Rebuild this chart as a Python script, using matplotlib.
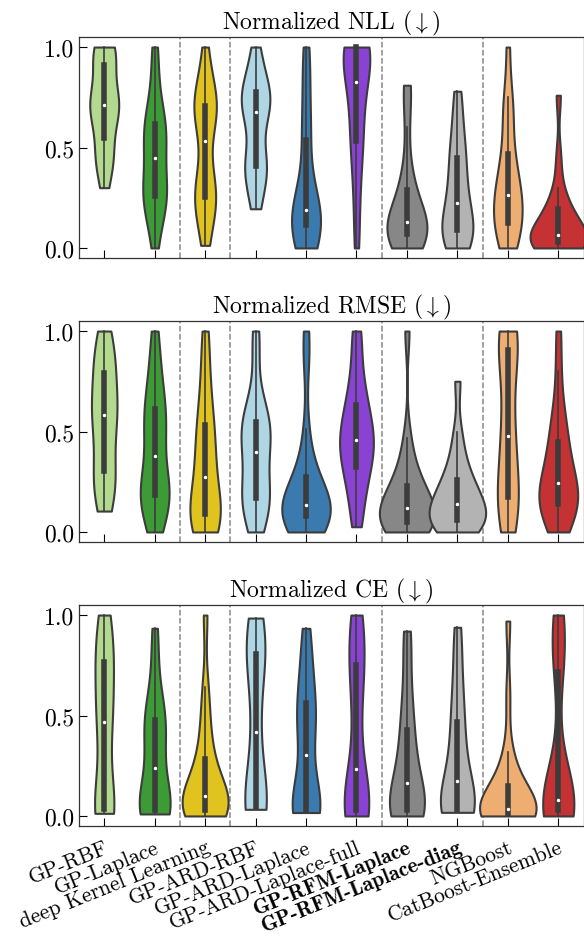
import matplotlib
matplotlib.use("Agg")
import matplotlib.pyplot as plt
import pandas as pd
import seaborn as sns

methods = ["GP-RBF", "GP-Laplace", "deep Kernel Learning", "GP-ARD-RBF",
           "GP-ARD-Laplace", "GP-ARD-Laplace-full", "GP-RFM-Laplace",
           "GP-RFM-Laplace-diag", "NGBoost", "CatBoost-Ensemble"]
bold_methods = ["GP-RFM-Laplace", "GP-RFM-Laplace-diag"]
colors = ["#b2d98e", "#3d9b35", "#e1c31f", "#aed6e4", "#3a7aae",
          "#8a42d4", "#878787", "#b3b3b3", "#eeae72", "#c43234"]
titles = ["Normalized NLL ($\\downarrow$)", "Normalized RMSE ($\\downarrow$)",
          "Normalized CE ($\\downarrow$)"]
separators = [1.5, 2.5, 5.5, 7.5]

# normalized scores per dataset, one list per method
nll_vals = [
    [0.30, 0.40, 0.43, 0.45, 0.50, 0.56, 0.64, 0.67, 0.69, 0.70, 0.72, 0.74, 0.76, 0.80, 0.91, 0.92, 0.97, 1.0, 1.0, 1.0],
    [0.0, 0.12, 0.18, 0.22, 0.25, 0.26, 0.28, 0.31, 0.35, 0.42, 0.48, 0.52, 0.55, 0.58, 0.61, 0.63, 0.68, 0.75, 0.90, 1.0],
    [0.013, 0.10, 0.18, 0.22, 0.24, 0.26, 0.28, 0.30, 0.33, 0.45, 0.61, 0.66, 0.68, 0.70, 0.70, 0.72, 0.74, 0.78, 0.88, 1.0],
    [0.195, 0.25, 0.32, 0.38, 0.40, 0.41, 0.43, 0.46, 0.58, 0.66, 0.69, 0.70, 0.72, 0.73, 0.77, 0.79, 0.81, 0.85, 0.93, 1.0],
    [0.0, 0.0, 0.02, 0.05, 0.09, 0.12, 0.13, 0.15, 0.16, 0.18, 0.20, 0.22, 0.25, 0.35, 0.52, 0.58, 0.65, 0.80, 0.92, 1.0],
    [0.0, 0.15, 0.30, 0.42, 0.50, 0.54, 0.60, 0.68, 0.75, 0.80, 0.85, 0.90, 0.94, 0.97, 1.0, 1.0, 1.0, 1.0, 1.0, 1.0],
    [0.0, 0.0, 0.02, 0.04, 0.06, 0.07, 0.08, 0.10, 0.11, 0.12, 0.14, 0.16, 0.18, 0.22, 0.28, 0.32, 0.40, 0.60, 0.78, 0.81],
    [0.0, 0.0, 0.03, 0.06, 0.08, 0.09, 0.10, 0.12, 0.15, 0.20, 0.25, 0.28, 0.32, 0.38, 0.44, 0.48, 0.52, 0.60, 0.70, 0.78],
    [0.0, 0.02, 0.06, 0.09, 0.11, 0.13, 0.17, 0.20, 0.23, 0.25, 0.28, 0.30, 0.34, 0.40, 0.45, 0.52, 0.66, 0.70, 0.75, 1.0],
    [0.0, 0.0, 0.01, 0.02, 0.02, 0.03, 0.04, 0.04, 0.05, 0.06, 0.07, 0.08, 0.10, 0.14, 0.19, 0.20, 0.21, 0.30, 0.45, 0.76],
]
rmse_vals = [
    [0.104, 0.15, 0.20, 0.24, 0.28, 0.31, 0.38, 0.45, 0.52, 0.56, 0.60, 0.62, 0.65, 0.68, 0.78, 0.82, 0.84, 0.90, 0.95, 1.0],
    [0.0, 0.06, 0.12, 0.15, 0.17, 0.19, 0.20, 0.22, 0.26, 0.33, 0.43, 0.48, 0.52, 0.56, 0.60, 0.64, 0.70, 0.78, 0.88, 1.0],
    [0.0, 0.0, 0.03, 0.06, 0.08, 0.09, 0.11, 0.13, 0.17, 0.24, 0.31, 0.36, 0.40, 0.45, 0.52, 0.56, 0.64, 0.74, 0.88, 1.0],
    [0.0, 0.06, 0.11, 0.14, 0.16, 0.17, 0.21, 0.24, 0.33, 0.38, 0.42, 0.46, 0.49, 0.52, 0.54, 0.56, 0.60, 0.66, 0.90, 1.0],
    [0.0, 0.0, 0.03, 0.06, 0.07, 0.08, 0.09, 0.10, 0.12, 0.13, 0.14, 0.15, 0.17, 0.20, 0.27, 0.29, 0.35, 0.51, 0.85, 1.0],
    [0.026, 0.10, 0.18, 0.25, 0.30, 0.33, 0.36, 0.40, 0.43, 0.45, 0.47, 0.50, 0.53, 0.57, 0.62, 0.66, 0.72, 0.80, 0.95, 1.0],
    [0.0, 0.0, 0.02, 0.03, 0.04, 0.05, 0.06, 0.07, 0.09, 0.11, 0.13, 0.14, 0.16, 0.19, 0.22, 0.25, 0.29, 0.36, 0.47, 1.0],
    [0.0, 0.0, 0.02, 0.04, 0.05, 0.06, 0.07, 0.09, 0.11, 0.13, 0.15, 0.17, 0.19, 0.22, 0.25, 0.28, 0.33, 0.40, 0.50, 0.75],
    [0.0, 0.05, 0.10, 0.14, 0.16, 0.18, 0.22, 0.30, 0.38, 0.45, 0.51, 0.58, 0.68, 0.85, 0.90, 0.92, 0.96, 1.0, 1.0, 1.0],
    [0.0, 0.04, 0.08, 0.11, 0.13, 0.14, 0.16, 0.18, 0.20, 0.23, 0.26, 0.29, 0.33, 0.38, 0.44, 0.48, 0.55, 0.62, 0.80, 1.0],
]
ce_vals = [
    [0.013, 0.02, 0.02, 0.03, 0.03, 0.035, 0.10, 0.28, 0.42, 0.46, 0.48, 0.55, 0.62, 0.70, 0.76, 0.78, 0.85, 0.90, 0.96, 1.0],
    [0.01, 0.01, 0.02, 0.02, 0.02, 0.03, 0.05, 0.08, 0.15, 0.22, 0.26, 0.35, 0.40, 0.44, 0.47, 0.50, 0.55, 0.62, 0.80, 0.934],
    [0.0, 0.0, 0.01, 0.02, 0.03, 0.03, 0.04, 0.05, 0.07, 0.09, 0.11, 0.13, 0.16, 0.20, 0.27, 0.32, 0.40, 0.52, 0.64, 1.0],
    [0.033, 0.034, 0.035, 0.036, 0.038, 0.05, 0.09, 0.14, 0.25, 0.38, 0.46, 0.60, 0.72, 0.78, 0.80, 0.82, 0.88, 0.93, 0.96, 0.985],
    [0.017, 0.02, 0.02, 0.02, 0.02, 0.03, 0.05, 0.08, 0.12, 0.25, 0.36, 0.42, 0.46, 0.50, 0.55, 0.60, 0.66, 0.75, 0.85, 0.934],
    [0.0, 0.0, 0.01, 0.02, 0.03, 0.03, 0.05, 0.08, 0.12, 0.20, 0.27, 0.45, 0.58, 0.66, 0.74, 0.78, 0.85, 0.92, 0.97, 1.0],
    [0.0, 0.0, 0.01, 0.02, 0.02, 0.03, 0.04, 0.05, 0.08, 0.15, 0.18, 0.22, 0.28, 0.34, 0.41, 0.48, 0.56, 0.68, 0.86, 0.92],
    [0.018, 0.018, 0.02, 0.02, 0.02, 0.03, 0.04, 0.06, 0.10, 0.16, 0.19, 0.24, 0.31, 0.38, 0.45, 0.52, 0.60, 0.70, 0.85, 0.939],
    [0.0, 0.0, 0.0, 0.0, 0.005, 0.01, 0.01, 0.02, 0.03, 0.03, 0.04, 0.05, 0.07, 0.10, 0.14, 0.17, 0.25, 0.32, 0.60, 0.97],
    [0.0, 0.0, 0.01, 0.02, 0.02, 0.03, 0.04, 0.05, 0.06, 0.07, 0.09, 0.12, 0.18, 0.30, 0.70, 0.76, 0.85, 0.92, 0.97, 1.0],
]

plt.rcParams['font.family'] = 'serif'
plt.rcParams['font.serif'] = ['cmr10']
plt.rcParams['mathtext.fontset'] = 'cm'
plt.rcParams['axes.formatter.use_mathtext'] = True
plt.rcParams['font.size'] = 17


def long_form(vals):
    rows = []
    for m, v in zip(methods, vals):
        for x in v:
            rows.append((m, x))
    return pd.DataFrame(rows, columns=["method", "score"])


fig = plt.figure(figsize=(5.84, 9.37), dpi=100)
W, H = 584.0, 937.0
left, right = 79, 583.5
tops = [38, 322, 606]
ax_h = 221

for i, (vals, title) in enumerate(zip([nll_vals, rmse_vals, ce_vals], titles)):
    top = tops[i]
    ax = fig.add_axes([left / W, 1 - (top + ax_h) / H, (right - left) / W, ax_h / H])
    df = long_form(vals)
    sns.violinplot(data=df, x="method", y="score", hue="method", order=methods,
                   hue_order=methods, palette=colors, legend=False, cut=0,
                   inner="box", density_norm="area", common_norm=True,
                   bw_adjust=0.85, width=1.12, linewidth=1.5, saturation=1,
                   linecolor="#3c3c3c",
                   inner_kws=dict(box_width=4, whis_width=1.2, marker="."), ax=ax)
    for s in separators:
        ax.axvline(s, color="#888888", ls="--", lw=1.1, zorder=0)
    ax.set_xlim(-0.5, 9.5)
    ax.set_ylim(-0.05, 1.05)
    ax.set_yticks([0.0, 0.5, 1.0])
    ax.set_yticklabels(["0.0", "0.5", "1.0"])
    ax.set_xlabel("")
    ax.set_ylabel("")
    ax.set_title(title, fontsize=17, pad=6)
    ax.tick_params(direction="in", length=6, width=0.8, labelsize=17)
    for sp in ax.spines.values():
        sp.set_linewidth(0.9)
        sp.set_color("#333333")
    ax.set_xticks(range(len(methods)))
    if i < 2:
        ax.set_xticklabels([])
    else:
        ax.set_xticklabels(methods, rotation=22, ha="right",
                           rotation_mode="anchor", fontsize=15.5)
        for lab in ax.get_xticklabels():
            if lab.get_text() in bold_methods:
                lab.set_fontfamily("cmb10")
        ax.tick_params(axis="x", pad=8)

fig.savefig("out.png", dpi=100)
